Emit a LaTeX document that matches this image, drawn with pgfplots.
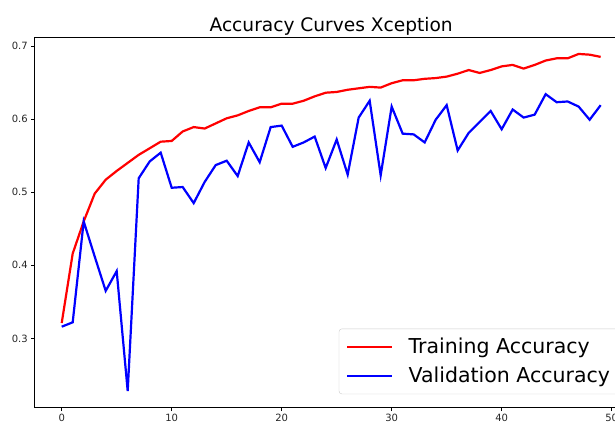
\documentclass[border=0pt]{standalone}
\usepackage{fontspec}
\setmainfont{DejaVu Sans}
\usepackage{pgfplots}
\pgfplotsset{compat=1.18}
\usepackage{pgfplotstable}
\pgfplotstableread{
x y
0 0.321
1 0.416
2 0.460
3 0.498
4 0.517
5 0.529
6 0.540
7 0.551
8 0.560
9 0.569
10 0.570
11 0.583
12 0.589
13 0.587
14 0.594
15 0.601
16 0.605
17 0.611
18 0.616
19 0.616
20 0.621
21 0.621
22 0.625
23 0.631
24 0.636
25 0.637
26 0.640
27 0.642
28 0.644
29 0.643
30 0.649
31 0.653
32 0.653
33 0.655
34 0.656
35 0.658
36 0.662
37 0.667
38 0.663
39 0.667
40 0.672
41 0.674
42 0.669
43 0.674
44 0.680
45 0.683
46 0.683
47 0.689
48 0.688
49 0.685
}\train
\pgfplotstableread{
x y
0 0.316
1 0.322
2 0.460
3 0.412
4 0.365
5 0.392
6 0.228
7 0.519
8 0.542
9 0.554
10 0.506
11 0.507
12 0.485
13 0.514
14 0.537
15 0.543
16 0.522
17 0.568
18 0.541
19 0.589
20 0.591
21 0.562
22 0.568
23 0.576
24 0.533
25 0.572
26 0.524
27 0.602
28 0.625
29 0.523
30 0.617
31 0.580
32 0.579
33 0.568
34 0.599
35 0.619
36 0.557
37 0.581
38 0.596
39 0.611
40 0.586
41 0.613
42 0.602
43 0.606
44 0.634
45 0.623
46 0.624
47 0.617
48 0.599
49 0.619
}\valid
\begin{document}
\begin{tikzpicture}
\path[use as bounding box, clip] (-34.75pt,-18.5pt) rectangle (580.25pt,407.5pt);
\begin{axis}[
  scale only axis,
  width=592.85pt, height=370pt,
  xmin=-2.45, xmax=51.45,
  ymin=0.2055, ymax=0.7115,
  xtick={0,10,20,30,40,50},
  ytick={0.3,0.4,0.5,0.6,0.7},
  yticklabel style={/pgf/number format/fixed, /pgf/number format/precision=1},
  /pgf/number format/assume math mode=true,
  tick label style={font=\fontsize{10}{12}\selectfont, color=black!85},
  tick pos=left,
  tick align=outside,
  major tick length=3.5pt,
  tick style={black, line width=0.6pt},
  axis line style={black, line width=0.8pt},
  title={Accuracy Curves Xception},
  title style={font=\fontsize{18.6}{22}\selectfont, inner sep=0pt, yshift=-4.4pt},
  legend style={
    at={(0.985,0.036)}, anchor=south east,
    font=\fontsize{20.5}{24}\selectfont,
    draw=black!20, rounded corners=3pt, fill=white,
    inner xsep=7pt, inner ysep=8pt,
    row sep=9pt,
    /tikz/every odd column/.append style={column sep=14pt},
    nodes={inner sep=1.5pt},
  },
  legend cell align=left,
  legend image code/.code={\draw[#1, line width=2.2pt] (0pt,0pt) -- (45pt,0pt);},
]
\addplot[red, line width=2.2pt] table[x=x, y=y] {\train};
\addlegendentry{Training Accuracy}
\addplot[blue, line width=2.2pt] table[x=x, y=y] {\valid};
\addlegendentry{Validation Accuracy}
\end{axis}
\end{tikzpicture}
\end{document}
